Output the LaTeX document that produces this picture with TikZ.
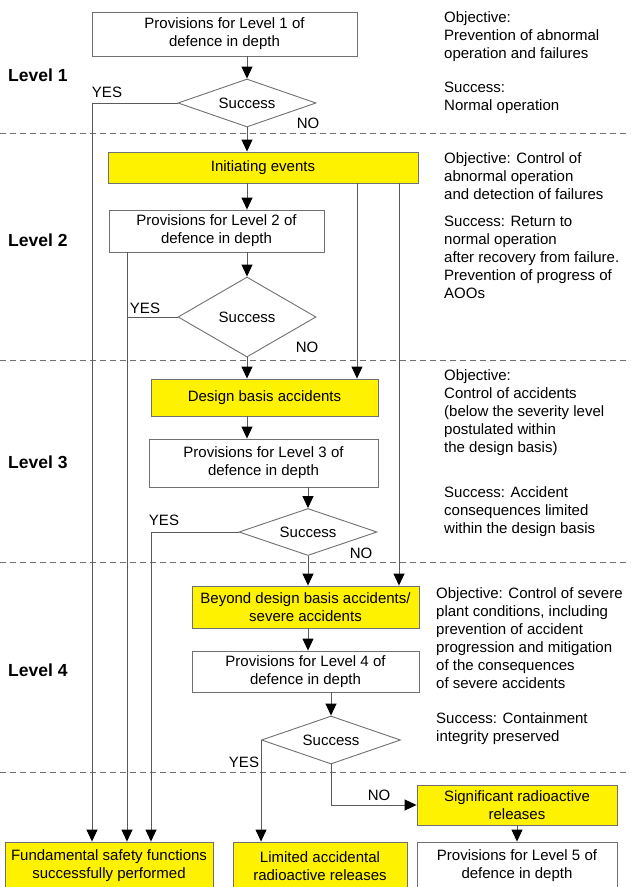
\documentclass[tikz,border=0pt]{standalone}
\usepackage{fontspec}
\setmainfont{Liberation Sans}
\usetikzlibrary{shapes.geometric,arrows.meta}
\definecolor{ylw}{HTML}{FFF200}
\definecolor{edgec}{HTML}{707070}
\definecolor{wirec}{HTML}{5A5A5A}
\begin{document}
\begin{tikzpicture}[x=1pt,y=-1pt,
  font=\fontsize{15}{18}\selectfont,
  box/.style={draw=edgec,line width=0.9pt,fill=white,rectangle,inner sep=0pt,align=center},
  ybox/.style={box,fill=ylw},
  dia/.style={draw=edgec,line width=0.9pt,diamond,inner sep=0pt,fill=white,aspect=2.8},
  wire/.style={draw=wirec,line width=0.9pt},
  arr/.style={wire,-{Triangle[length=12pt,width=11pt,color=black]}},
  sep/.style={draw=edgec,line width=0.9pt,dash pattern=on 6pt off 4pt},
  lvl/.style={font=\fontsize{17.5}{20}\selectfont\bfseries,anchor=west,inner sep=0pt},
  lab/.style={inner sep=0pt},
  note/.style={anchor=north west,align=left,inner sep=0pt}
]
\useasboundingbox[fill=white] (0,0) rectangle (630,887);

% column coordinates
\coordinate (cA) at (247,0);
\coordinate (cB) at (308,0);
\coordinate (cC) at (331,0);
\coordinate (c92) at (92,0);
\coordinate (c127) at (127,0);
\coordinate (c151) at (151,0);
\coordinate (c357) at (357,0);
\coordinate (c399) at (399,0);

% separators
\draw[sep] (0,133) -- (630,133);
\draw[sep] (0,360) -- (630,360);
\draw[sep] (0,562) -- (630,562);
\draw[sep] (0,772) -- (630,772);

% level labels
\node[lvl] (lv1) at (8,75) {Level 1};
\node[lvl] (lv2) at (8,240) {Level 2};
\node[lvl] (lv3) at (8,462) {Level 3};
\node[lvl] (lv4) at (8,670) {Level 4};

% boxes
\node[box,minimum width=265pt,minimum height=44pt] (B1) at (224.5,34) {Provisions for Level 1 of\\defence in depth};
\node[dia,minimum width=138pt,minimum height=48pt] (D1) at (247,103) {Success};
\node[ybox,minimum width=310pt,minimum height=31pt] (IE) at (263,167.5) {Initiating events};
\node[box,minimum width=215pt,minimum height=42pt] (B2) at (216.5,231) {Provisions for Level 2 of\\defence in depth};
\node[dia,minimum width=138pt,minimum height=80pt] (D2) at (247,317) {Success};
\node[ybox,minimum width=227pt,minimum height=37pt] (DBA) at (264.5,397.5) {Design basis accidents};
\node[box,minimum width=229pt,minimum height=48pt] (B3) at (263.5,463) {Provisions for Level 3 of\\defence in depth};
\node[dia,minimum width=138pt,minimum height=47pt] (D3) at (308,532) {Success};
\node[ybox,minimum width=227pt,minimum height=42pt] (BDBA) at (305.5,607) {Beyond design basis accidents/\\severe accidents};
\node[box,minimum width=227pt,minimum height=41pt] (B4) at (305.5,671.5) {Provisions for Level 4 of\\defence in depth};
\node[dia,minimum width=139pt,minimum height=48pt] (D4) at (331,740) {Success};
\node[ybox,minimum width=200pt,minimum height=40pt] (SIG) at (517,805) {Significant radioactive\\releases};
\node[ybox,minimum width=208pt,minimum height=48pt] (FUN) at (109,866) {Fundamental safety functions\\successfully performed};
\node[ybox,minimum width=174pt,minimum height=48pt] (LIM) at (320,866) {Limited accidental\\radioactive releases};
\node[box,minimum width=200pt,minimum height=48pt] (B5) at (517,866) {Provisions for Level 5 of\\defence in depth};

% YES / NO labels
\node[lab] (y1) at (107,92) {YES};
\node[lab] (n1) at (308,123) {NO};
\node[lab] (y2) at (145,308) {YES};
\node[lab] (n2) at (307,347) {NO};
\node[lab] (y3) at (164,520) {YES};
\node[lab] (n3) at (361,553) {NO};
\node[lab] (y4) at (244,762) {YES};
\node[lab] (n4) at (379,795) {NO};

% main flow
\draw[arr] (B1.south -| cA) -- (D1.north);
\draw[arr] (D1.south) -- (IE.north -| cA);
\draw[arr] (IE.south -| cA) -- (B2.north -| cA);
\draw[arr] (B2.south -| cA) -- (D2.north);
\draw[arr] (D2.south) -- (DBA.north -| cA);
\draw[arr] (DBA.south -| cA) -- (B3.north -| cA);
\draw[arr] (B3.south -| cB) -- (D3.north);
\draw[arr] (D3.south) -- (BDBA.north -| cB);
\draw[arr] (BDBA.south -| cB) -- (B4.north -| cB);
\draw[arr] (B4.south -| cC) -- (D4.north);
\draw[arr] (D4.south) |- (SIG.west);
\draw[arr] (SIG.south) -- (B5.north);

% bypass lines
\draw[arr] (IE.south -| c357) -- (DBA.north -| c357);
\draw[arr] (IE.south -| c399) -- (BDBA.north -| c399);

% YES branches
\draw[arr] (D1.west) -| (FUN.north -| c92);
\draw[arr] (B2.south -| c127) -- (FUN.north -| c127);
\draw[wire] (D2.west) -- (D2.west -| c127);
\draw[arr] (D3.west) -| (FUN.north -| c151);
\draw[arr] (D4.west) -- (LIM.north -| D4.west);

% notes
\node[note] (o1) at (444,11) {Objective:\\Prevention of abnormal\\operation and failures};
\node[note] (s1) at (444,82) {Success:\\Normal operation};
\node[note] (o2) at (444,152) {Objective: Control of\\abnormal operation\\and detection of failures};
\node[note] (s2) at (444,216) {Success: Return to\\normal operation\\after recovery from failure.\\Prevention of progress of\\AOOs};
\node[note] (o3) at (444,369) {Objective:\\Control of accidents\\(below the severity level\\postulated within\\the design basis)};
\node[note] (s3) at (444,486) {Success: Accident\\consequences limited\\within the design basis};
\node[note] (o4) at (436,587) {Objective: Control of severe\\plant conditions, including\\prevention of accident\\progression and mitigation\\of the consequences\\of severe accidents};
\node[note] (s4) at (436,712) {Success: Containment\\integrity preserved};
\end{tikzpicture}
\end{document}
